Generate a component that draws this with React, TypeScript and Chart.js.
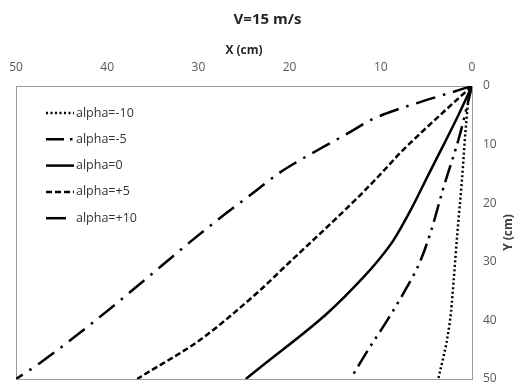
import React, { useEffect, useRef } from 'react';
import { Chart, registerables } from 'chart.js';

Chart.register(...registerables);

const chartTitle = 'V=15 m/s';
const xAxisTitle = 'X (cm)';
const yAxisTitle = 'Y (cm)';
const seriesLabels = ['alpha=-10', 'alpha=-5', 'alpha=0', 'alpha=+5', 'alpha=+10'];

// alpha = -10 (dotted)
const xM10 = [0, 0.3, 0.7, 1.1, 1.6, 2.0, 2.3, 2.7, 3.1, 3.7];
const yM10 = [0, 1.2, 7.5, 16.0, 25.0, 33.0, 38.5, 43.0, 46.0, 50.0];
// alpha = -5 (long dash dot dot)
const xM5 = [0, 0.3, 1.4, 3.1, 4.5, 5.7, 7.2, 9.3, 11.3, 13.1];
const yM5 = [0, 1.9, 8.7, 17.2, 24.8, 30.0, 34.5, 40.0, 44.8, 49.4];
// alpha = 0 (solid)
const x0 = [0, 1.5, 3.1, 4.8, 6.6, 8.6, 10.2, 12.0, 15.8, 23.2, 24.8];
const y0 = [0, 5.0, 10.0, 15.2, 20.8, 26.3, 29.6, 32.8, 38.7, 48.0, 50.0];
// alpha = +5 (dashed)
const xP5 = [0, 3.1, 5.6, 7.8, 10.0, 12.5, 20.7, 23.2, 29.8, 36.4, 36.7];
const yP5 = [0, 4.4, 8.0, 11.3, 15.0, 19.0, 31.1, 34.8, 43.3, 49.7, 50.0];
// alpha = +10 (long dash dot)
const xP10 = [0, 3.1, 5.6, 8.9, 11.1, 13.3, 16.3, 18.8, 21.0, 24.3, 27.6, 30.9, 34.2, 40.8, 47.4, 50.0];
const yP10 = [0, 1.5, 2.7, 4.4, 5.8, 7.8, 10.4, 12.6, 14.7, 18.6, 22.5, 26.6, 30.9, 39.4, 47.3, 50.0];

const xTickValues = [0, 10, 20, 30, 40, 50];
const yTickValues = [0, 10, 20, 30, 40, 50];

const seriesX = [xM10, xM5, x0, xP5, xP10];
const seriesY = [yM10, yM5, y0, yP5, yP10];
const seriesDash = [[2, 2.5], [18, 6, 2.5, 6, 2.5, 6], [], [6, 3], [20, 8, 2.5, 8]];

const FONT = "'Open Sans', 'DejaVu Sans', sans-serif";

const borderPlugin = {
  id: 'plotBorder',
  beforeDatasetsDraw(chart: any) {
    const { ctx, chartArea } = chart;
    ctx.save();
    ctx.strokeStyle = '#9a9a9a';
    ctx.lineWidth = 1;
    ctx.setLineDash([]);
    ctx.strokeRect(chartArea.left + 0.5, chartArea.top + 0.5, chartArea.right - chartArea.left, chartArea.bottom - chartArea.top);
    ctx.restore();
  },
};

const legendPlugin = {
  id: 'insideLegend',
  afterDatasetsDraw(chart: any) {
    const { ctx, chartArea } = chart;
    ctx.save();
    chart.data.datasets.forEach((ds: any, i: number) => {
      const y = chartArea.top + 27 + i * 26.3;
      const x1 = chartArea.left + 30;
      const x2 = chartArea.left + 58;
      ctx.strokeStyle = '#000';
      ctx.lineWidth = ds.borderWidth;
      ctx.setLineDash(ds.borderDash || []);
      ctx.beginPath();
      ctx.moveTo(x1, y);
      ctx.lineTo(x2, y);
      ctx.stroke();
      ctx.setLineDash([]);
      ctx.fillStyle = '#333333';
      ctx.font = `12.5px ${FONT}`;
      ctx.textBaseline = 'middle';
      ctx.textAlign = 'left';
      ctx.fillText(ds.label, x2 + 2, y);
    });
    ctx.restore();
  },
};

const yTitlePlugin = {
  id: 'yTitle',
  afterDraw(chart: any) {
    const { ctx, chartArea } = chart;
    ctx.save();
    ctx.translate(509, (chartArea.top + chartArea.bottom) / 2);
    ctx.rotate(-Math.PI / 2);
    ctx.fillStyle = '#404040';
    ctx.font = `bold 12px ${FONT}`;
    ctx.textAlign = 'center';
    ctx.textBaseline = 'middle';
    ctx.fillText(yAxisTitle, 0, 0);
    ctx.restore();
  },
};

export default function App() {
  const canvasRef = useRef<HTMLCanvasElement | null>(null);

  useEffect(() => {
    if (!canvasRef.current) return;
    const datasets = seriesLabels.map((label, i) => ({
      label,
      data: seriesX[i].map((x, j) => ({ x, y: seriesY[i][j] })),
      borderColor: '#000',
      backgroundColor: '#000',
      borderWidth: 2.5,
      borderDash: seriesDash[i],
      pointRadius: 0,
      showLine: true,
      fill: false,
      cubicInterpolationMode: 'monotone',
    }));
    const chart = new Chart(canvasRef.current, {
      type: 'scatter',
      data: { datasets },
      options: {
        animation: false,
        responsive: false,
        layout: { padding: { left: 16, right: 0, top: 0, bottom: 6 } },
        plugins: {
          legend: { display: false },
          tooltip: { enabled: false },
          title: {
            display: true,
            text: chartTitle,
            color: '#262626',
            font: { family: FONT, size: 15, weight: 'bold' },
            padding: { top: 11, bottom: 0 },
          },
        },
        scales: {
          x: {
            type: 'linear',
            position: 'top',
            reverse: true,
            min: 0,
            max: 50,
            grid: { display: false, drawTicks: false },
            border: { display: false },
            afterBuildTicks: (scale: any) => {
              scale.ticks = xTickValues.map((v) => ({ value: v }));
            },
            afterFit: (scale: any) => {
              scale.height = 57;
              scale.paddingLeft = 0;
              scale.paddingRight = 0;
            },
            ticks: {
              color: '#595959',
              font: { family: FONT, size: 12 },
              padding: 11,
              maxRotation: 0,
            },
            title: {
              display: true,
              text: xAxisTitle,
              color: '#262626',
              font: { family: FONT, size: 12, weight: 'bold' },
              padding: { top: 14, bottom: 0 },
            },
          },
          y: {
            type: 'linear',
            position: 'right',
            reverse: true,
            min: 0,
            max: 50,
            grid: { display: false, drawTicks: false },
            border: { display: false },
            afterBuildTicks: (scale: any) => {
              scale.ticks = yTickValues.map((v) => ({ value: v }));
            },
            afterFit: (scale: any) => {
              scale.width = 47;
              scale.paddingTop = 0;
              scale.paddingBottom = 0;
            },
            ticks: {
              color: '#595959',
              font: { family: FONT, size: 12 },
              padding: 11,
            },
          },
        },
      },
      plugins: [borderPlugin, legendPlugin, yTitlePlugin],
    } as any);
    return () => chart.destroy();
  }, []);

  return (
    <div style={{ position: 'absolute', left: 0, top: 0, width: 519, height: 385, background: '#fff' }}>
      <canvas ref={canvasRef} width={519} height={385} style={{ display: 'block' }} />
    </div>
  );
}
